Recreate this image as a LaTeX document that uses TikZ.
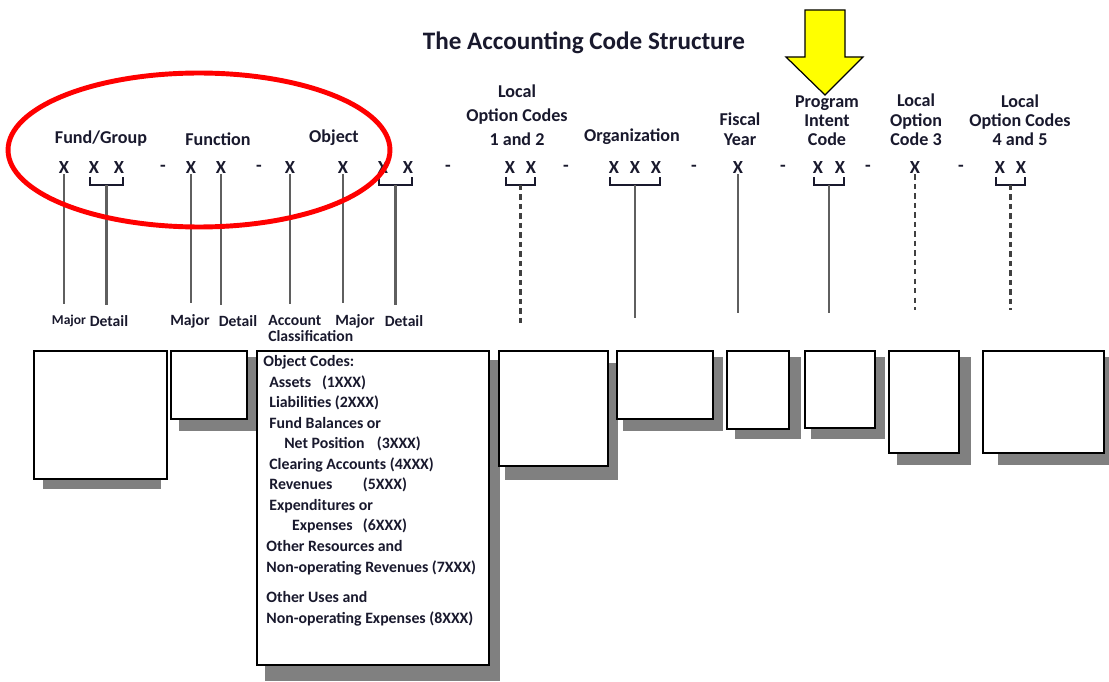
\documentclass[tikz,border=0pt]{standalone}
\usepackage{fontspec}
\setmainfont{Carlito}
\usetikzlibrary{shapes.geometric, backgrounds, calc}
\definecolor{TX}{RGB}{25,25,45}
\definecolor{LN}{RGB}{95,95,95}
\definecolor{SH}{RGB}{128,128,128}
\definecolor{RD}{RGB}{255,0,0}
\definecolor{YL}{RGB}{255,255,0}

\begin{document}
\begin{tikzpicture}[
  x=0.02cm, y=-0.02cm,
  every node/.style={text=TX, inner sep=0pt},
  hdr/.style={font=\fontsize{10.3}{#1}\selectfont\bfseries, align=center},
  hdr/.default=12,
  xx/.style={font=\fontsize{10.5}{12}\selectfont\bfseries},
  sub/.style={font=\fontsize{8.9}{9.2}\selectfont\bfseries},
  codes/.style={font=\fontsize{9}{11.7}\selectfont\bfseries, align=left, anchor=north west},
  cbox/.style={draw=black, line width=0.9pt, fill=white, anchor=north west},
  shd/.style={fill=SH},
  lead/.style={draw=LN, line width=1.3pt, shorten >=#1},
  lead/.default=0pt,
  dlead/.style={lead, draw=black!75, dash pattern=on 3pt off 2.4pt},
  brk/.style={draw=TX, line width=0.9pt},
  ring/.style={draw=RD, line width=2.8pt, ellipse},
  pointer/.style={draw=black, line width=0.7pt, fill=YL, line join=miter}
]
\useasboundingbox (0,0) rectangle (1109,682);

% Title
\node[font=\fontsize{14.3}{16}\selectfont\bfseries] (title) at (584,43) {The Accounting Code Structure};

% Field headings
\node[hdr]      (hFund)  at (101,139) {Fund/Group};
\node[hdr]      (hFunc)  at (218,139) {Function};
\node[hdr]      (hObj)   at (334,138) {Object};
\node[hdr=13.6] (hLoc12) at (517,115) {Local\\Option Codes\\1 and 2};
\node[hdr]      (hOrg)   at (632,137) {Organization};
\node[hdr=11.3] (hFis)   at (740,129) {Fiscal\\Year};
\node[hdr=10.8] (hProg)  at (827,121) {Program\\Intent\\Code};
\node[hdr=11.1] (hLoc3)  at (916,120) {Local\\Option\\Code 3};
\node[hdr=10.8] (hLoc45) at (1020,120) {Local\\Option Codes\\4 and 5};

% Code digits and separators
\foreach \n/\px in {fg1/64, fg2/94, fg3/119, fn1/191, fn2/221, ob1/290, ob2/343,
    ob3/383, ob4/408, la1/510, la2/531, or1/614, or2/635, or3/656, fy1/738,
    pi1/818, pi2/840, lb1/915, lc1/1000, lc2/1021}
  \node[xx] (\n) at (\px,168) {X};
\foreach \px [count=\i] in {163,259,448,566,694,783,868,961}
  \node[xx] (sep\i) at (\px,168) {-};

% Brackets under paired digits
\draw[brk] ($(fg2)+(-4,9)$) -- ++(0,8) -- coordinate (kFg) ($(fg3)+(4,17)$) -- ++(0,-8);
\draw[brk] ($(ob3)+(-4,9)$) -- ++(0,8) -- coordinate (kOb) ($(ob4)+(4,17)$) -- ++(0,-8);
\draw[brk] ($(la1)+(-4,9)$) -- ++(0,8) -- coordinate (kLa) ($(la2)+(4,17)$) -- ++(0,-8);
\draw[brk] ($(or1)+(-4,9)$) -- ++(0,8) -- coordinate (kOr) ($(or3)+(4,17)$) -- ++(0,-8);
\draw[brk] ($(pi1)+(-4,9)$) -- ++(0,8) -- coordinate (kPi) ($(pi2)+(4,17)$) -- ++(0,-8);
\draw[brk] ($(lc1)+(-4,9)$) -- ++(0,8) -- coordinate (kLc) ($(lc2)+(4,17)$) -- ++(0,-8);

% Part labels
\node[sub, font=\fontsize{7.7}{9}\selectfont\bfseries] (sMaj1) at (69,321) {Major};
\node[sub] (sDet1) at (109,321) {Detail};
\node[sub] (sMaj2) at (190,321) {Major};
\node[sub] (sDet2) at (238,321) {Detail};
\node[sub, align=left, anchor=north west] (sAcc) at (268,315) {Account\\Classification};
\node[sub] (sMaj3) at (355,321) {Major};
\node[sub] (sDet3) at (404,321) {Detail};

\draw[lead=6pt] (fg1.south) -- (fg1.south |- sMaj1.north);
\draw[lead=6pt] (kFg) -- (kFg |- sDet1.north);
\draw[lead=6pt] (fn1.south) -- (fn1.south |- sMaj2.north);
\draw[lead=6pt] (fn2.south) -- (fn2.south |- sDet2.north);
\draw[lead=6pt] (ob1.south) -- (ob1.south |- sAcc.north);
\draw[lead=6pt] (ob2.south) -- (ob2.south |- sMaj3.north);
\draw[lead=6pt] (kOb) -- (kOb |- sDet3.north);

% Stop heights for the open leads
\coordinate (st1) at (0,325);
\coordinate (st2) at (0,318);
\coordinate (st3) at (0,313);
\coordinate (st4) at (0,310);
\draw[dlead] (kLa) -- (kLa |- st1);
\draw[lead]  (kOr) -- (kOr |- st2);
\draw[lead]  (fy1.south) -- (fy1.south |- st3);
\draw[lead]  (kPi) -- (kPi |- st3);
\draw[dlead] (lb1.south) -- (lb1.south |- st4);
\draw[dlead] (kLc) -- (kLc |- st4);

% Boxes
\node[cbox, minimum width=2.66cm, minimum height=2.56cm] (bFund)  at (33,350)  {};
\node[cbox, minimum width=1.52cm, minimum height=1.36cm] (bFunc)  at (170,350) {};
\node[cbox, minimum width=4.64cm, minimum height=6.28cm] (bObj)   at (256,350) {};
\node[cbox, minimum width=2.18cm, minimum height=2.30cm] (bLoc12) at (498,350) {};
\node[cbox, minimum width=1.92cm, minimum height=1.36cm] (bOrg)   at (616,350) {};
\node[cbox, minimum width=1.24cm, minimum height=1.56cm] (bFis)   at (726,350) {};
\node[cbox, minimum width=1.40cm, minimum height=1.54cm] (bProg)  at (804,350) {};
\node[cbox, minimum width=1.40cm, minimum height=2.04cm] (bLoc3)  at (888,350) {};
\node[cbox, minimum width=2.42cm, minimum height=2.04cm] (bLoc45) at (982,350) {};

\begin{scope}[on background layer]
  \fill[shd] ([shift={(10,10)}]bFund.north west) rectangle ([shift={(-7,9)}]bFund.south east);
  \fill[shd] ([shift={(9,7)}]bFunc.north west)   rectangle ([shift={(11,11)}]bFunc.south east);
  \fill[shd] ([shift={(9,10)}]bObj.north west)   rectangle ([shift={(10,15)}]bObj.south east);
  \fill[shd] ([shift={(7,13)}]bLoc12.north west) rectangle ([shift={(9,13)}]bLoc12.south east);
  \fill[shd] ([shift={(7,7)}]bOrg.north west)    rectangle ([shift={(9,11)}]bOrg.south east);
  \fill[shd] ([shift={(9,7)}]bFis.north west)    rectangle ([shift={(11,9)}]bFis.south east);
  \fill[shd] ([shift={(7,7)}]bProg.north west)   rectangle ([shift={(9,10)}]bProg.south east);
  \fill[shd] ([shift={(9,7)}]bLoc3.north west)   rectangle ([shift={(11,11)}]bLoc3.south east);
  \fill[shd] ([shift={(16,7)}]bLoc45.north west) rectangle ([shift={(7,11)}]bLoc45.south east);
\end{scope}

% Object code list
\node[codes] (oList) at ([shift={(7,5)}]bObj.north west) {%
  Object Codes:\\
  \makebox[33.4pt][l]{\hspace*{3.4pt}Assets}(1XXX)\\
  \hspace*{3.4pt}Liabilities (2XXX)\\
  \hspace*{3.4pt}Fund Balances or\\
  \makebox[64.6pt][l]{\hspace*{11.9pt}Net Position}(3XXX)\\
  \hspace*{3.4pt}Clearing Accounts (4XXX)\\
  \makebox[56.7pt][l]{\hspace*{3.4pt}Revenues}(5XXX)\\
  \hspace*{3.4pt}Expenditures or\\
  \makebox[56.7pt][l]{\hspace*{16.4pt}Expenses}(6XXX)\\
  \hspace*{1.7pt}Other Resources and\\
  \hspace*{1.7pt}Non-operating Revenues (7XXX)\\[5.7pt]
  \hspace*{1.7pt}Other Uses and\\
  \hspace*{1.7pt}Non-operating Expenses (8XXX)};

% Highlight
\node[ring, minimum width=7.64cm, minimum height=3.08cm] (oval) at (199,150) {};
\draw[pointer] (805,10) -- (845,10) -- (845,57) -- (863,57) -- (825,95)
  -- (786,57) -- (805,57) -- cycle;
\end{tikzpicture}
\end{document}
